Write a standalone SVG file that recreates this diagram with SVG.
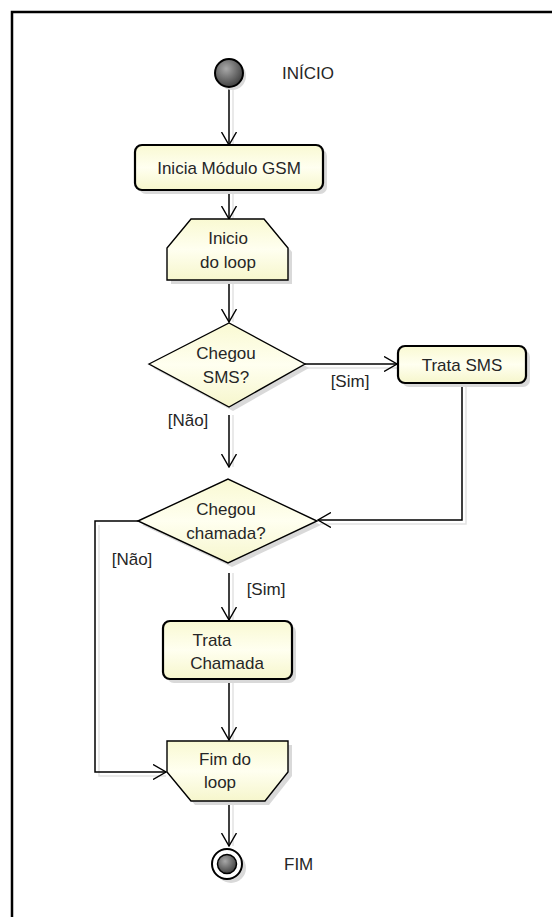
<svg xmlns="http://www.w3.org/2000/svg" width="552" height="917" viewBox="0 0 552 917">
<defs>
<linearGradient id="fillY" x1="0" y1="0" x2="0" y2="1">
<stop offset="0" stop-color="#f9f9d2"/>
<stop offset="0.5" stop-color="#fffff0"/>
<stop offset="1" stop-color="#f6f6cc"/>
</linearGradient>
<radialGradient id="ball" cx="0.4" cy="0.35" r="0.7">
<stop offset="0" stop-color="#a8a8a8"/>
<stop offset="1" stop-color="#3a3a3a"/>
</radialGradient>
<marker id="arr" viewBox="0 0 14 16" refX="13" refY="8" markerWidth="14" markerHeight="16" markerUnits="userSpaceOnUse" orient="auto">
<path d="M0,0.5 L13,8 L0,15.5" fill="none" stroke="#000" stroke-width="1.4"/>
</marker>
<style>
.node{fill:url(#fillY);stroke:#000;stroke-width:2.2}
.thin{fill:url(#fillY);stroke:#000;stroke-width:1.4}
.shd{fill:#d9d9d9}
.shl{fill:none;stroke:#e2e2e2;stroke-width:1.5}
.edge{fill:none;stroke:#000;stroke-width:1.5}
text{font-family:"Liberation Sans",Arial,sans-serif;font-size:17px;fill:#262626}
.c{text-anchor:middle}
</style>
</defs>
<rect x="0" y="0" width="552" height="917" fill="#fff"/>
<rect x="12" y="12" width="580" height="940" fill="none" stroke="#000" stroke-width="2.5"/>

<g id="connector-shadows">
<path class="shl" d="M233,88 V145 M233,192 V219 M233,282 V322 M233,415 V467 M233,573 V620 M233,681 V740 M233,803 V846 M466,385 V524 H320 M99,525 V776 H166 M306,368 H397"/>
</g>

<g id="connectors">
<path class="edge" d="M229,87 V145" marker-end="url(#arr)"/>
<path class="edge" d="M229,190 V219" marker-end="url(#arr)"/>
<path class="edge" d="M229,280 V322" marker-end="url(#arr)"/>
<path class="edge" d="M305,364 H397" marker-end="url(#arr)"/>
<path class="edge" d="M229,415 V467" marker-end="url(#arr)"/>
<path class="edge" d="M462,383 V520 H318" marker-end="url(#arr)"/>
<path class="edge" d="M138,521 H95 V772 H166" marker-end="url(#arr)"/>
<path class="edge" d="M229,573 V620" marker-end="url(#arr)"/>
<path class="edge" d="M229,679 V740" marker-end="url(#arr)"/>
<path class="edge" d="M229,801 V846" marker-end="url(#arr)"/>
<text x="350" y="387" class="c">[Sim]</text>
<text x="188" y="426" class="c">[Não]</text>
<text x="132" y="565" class="c">[Não]</text>
<text x="266" y="595" class="c">[Sim]</text>
</g>

<g id="start">
<circle class="shd" cx="232" cy="76" r="14"/>
<circle cx="229" cy="73" r="14" fill="url(#ball)" stroke="#000" stroke-width="2"/>
<text x="282" y="79">INÍCIO</text>
</g>

<g id="inicia-modulo">
<rect class="shd" x="139" y="149" width="188" height="45" rx="7"/>
<rect class="node" x="135" y="145" width="188" height="45" rx="7"/>
<text x="229" y="174" class="c">Inicia Módulo GSM</text>
</g>

<g id="inicio-loop">
<polygon class="shd" points="195,223 268,223 292,252 292,284 171,284 171,252"/>
<polygon class="thin" points="191,219 264,219 288,248 288,280 167,280 167,248"/>
<text x="228" y="244" class="c">Inicio</text>
<text x="228" y="268" class="c">do loop</text>
</g>

<g id="chegou-sms">
<polygon class="shd" points="153,368 233,327 309,368 233,411"/>
<polygon class="thin" points="149,364 229,323 305,364 229,407"/>
<text x="226" y="359" class="c">Chegou</text>
<text x="226" y="383" class="c">SMS?</text>
</g>

<g id="trata-sms">
<rect class="shd" x="402" y="350" width="128" height="37" rx="7"/>
<rect class="node" x="398" y="346" width="128" height="37" rx="7"/>
<text x="462" y="371" class="c">Trata SMS</text>
</g>

<g id="chegou-chamada">
<polygon class="shd" points="142,525 232,483 321,525 232,567"/>
<polygon class="thin" points="138,521 228,479 317,521 228,563"/>
<text x="226" y="515" class="c">Chegou</text>
<text x="226" y="539" class="c">chamada?</text>
</g>

<g id="trata-chamada">
<rect class="shd" x="167" y="625" width="129" height="58" rx="7"/>
<rect class="node" x="163" y="621" width="129" height="58" rx="7"/>
<text x="212" y="646" class="c">Trata</text>
<text x="227" y="669" class="c">Chamada</text>
</g>

<g id="fim-loop">
<polygon class="shd" points="171,745 292,745 292,776 269,805 195,805 171,776"/>
<polygon class="thin" points="167,741 288,741 288,772 265,801 191,801 167,772"/>
<text x="225" y="765" class="c">Fim do</text>
<text x="220" y="788" class="c">loop</text>
</g>

<g id="end">
<circle class="shd" cx="231" cy="868" r="15"/>
<circle cx="227" cy="864" r="15" fill="#fff" stroke="#000" stroke-width="2"/>
<circle cx="227" cy="864" r="9.5" fill="url(#ball)" stroke="#000" stroke-width="1.5"/>
<text x="284" y="870">FIM</text>
</g>
</svg>
